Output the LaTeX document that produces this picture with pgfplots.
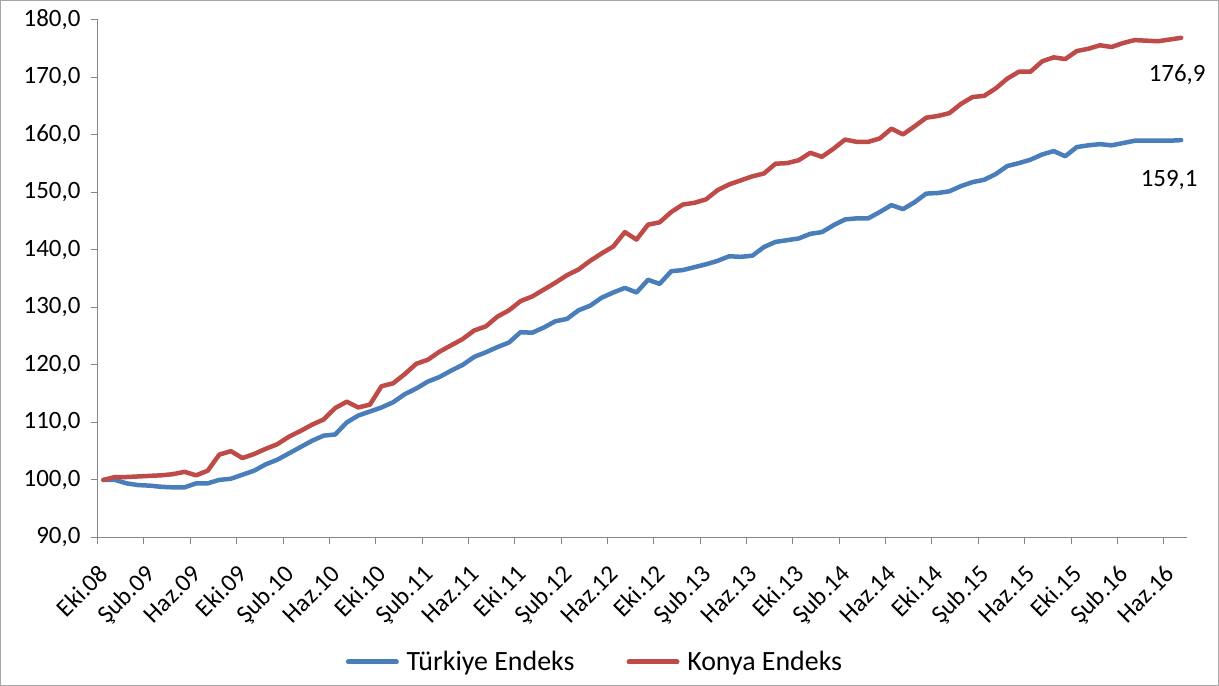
\documentclass[border=0pt]{standalone}
\usepackage{fontspec}
\setmainfont{Carlito}
\usepackage{pgfplots}
\pgfplotsset{compat=1.18}
\usepackage{pgfplotstable}

\definecolor{trblue}{HTML}{4A7EBB}
\definecolor{kored}{HTML}{BE4B48}
\definecolor{axgray}{HTML}{868686}
\definecolor{framegray}{HTML}{A6A6A6}

% ay sirasi (0 = Eki.08 ... 93 = Tem.16), Turkiye ve Konya endeksi
\pgfplotstableread{
i  tr    ko
0  100.0 100.0
1  100.0 100.5
2  99.4  100.5
3  99.1  100.6
4  99.0  100.7
5  98.8  100.8
6  98.7  101.0
7  98.7  101.4
8  99.4  100.8
9  99.4  101.6
10 100.0 104.4
11 100.2 105.0
12 100.9 103.8
13 101.6 104.5
14 102.7 105.4
15 103.5 106.2
16 104.6 107.5
17 105.7 108.5
18 106.8 109.6
19 107.7 110.5
20 107.9 112.5
21 110.0 113.6
22 111.2 112.6
23 111.9 113.1
24 112.6 116.3
25 113.5 116.8
26 114.9 118.4
27 115.9 120.2
28 117.1 120.9
29 117.9 122.3
30 119.0 123.4
31 120.0 124.5
32 121.4 126.0
33 122.2 126.7
34 123.1 128.4
35 123.9 129.5
36 125.7 131.1
37 125.6 131.9
38 126.5 133.1
39 127.6 134.3
40 128.0 135.6
41 129.5 136.6
42 130.3 138.1
43 131.7 139.4
44 132.6 140.6
45 133.4 143.1
46 132.6 141.8
47 134.8 144.4
48 134.1 144.8
49 136.3 146.6
50 136.5 147.9
51 137.0 148.2
52 137.5 148.8
53 138.1 150.4
54 138.9 151.4
55 138.8 152.1
56 139.0 152.8
57 140.5 153.3
58 141.4 155.0
59 141.7 155.1
60 142.0 155.6
61 142.8 156.9
62 143.1 156.2
63 144.3 157.6
64 145.3 159.2
65 145.5 158.8
66 145.5 158.8
67 146.6 159.4
68 147.8 161.1
69 147.1 160.1
70 148.3 161.5
71 149.8 163.0
72 149.9 163.3
73 150.2 163.8
74 151.1 165.4
75 151.8 166.6
76 152.2 166.8
77 153.2 168.1
78 154.6 169.8
79 155.1 171.0
80 155.7 171.0
81 156.6 172.8
82 157.2 173.5
83 156.3 173.2
84 157.9 174.6
85 158.2 175.0
86 158.4 175.6
87 158.2 175.3
88 158.6 176.0
89 159.0 176.5
90 159.0 176.4
91 159.0 176.3
92 159.0 176.6
93 159.1 176.9
}\endeks

\begin{document}
\begin{tikzpicture}[x=1bp,y=1bp]
\useasboundingbox (0,0) rectangle (1219,686);
\draw[framegray, line width=1.2bp] (0.6,0.6) rectangle (1218.4,685.4);
\begin{axis}[
    at={(97.6bp,148.6bp)}, anchor=south west,
    scale only axis, width=1089.4bp, height=517.4bp,
    xmin=-0.5, xmax=93.5,
    ymin=90, ymax=180,
    axis x line*=bottom, axis y line*=left,
    axis line style={draw=axgray, line width=1bp},
    tick align=outside,
    major tick length=7bp, minor tick length=7bp,
    tick style={draw=axgray, line width=1bp},
    major x tick style={draw=none},
    xtick={0,4,...,92},
    minor xtick={-0.5,3.5,...,91.5},
    xticklabels={Eki.08,Şub.09,Haz.09,Eki.09,Şub.10,Haz.10,Eki.10,Şub.11,Haz.11,Eki.11,Şub.12,Haz.12,Eki.12,Şub.13,Haz.13,Eki.13,Şub.14,Haz.14,Eki.14,Şub.15,Haz.15,Eki.15,Şub.16,Haz.16},
    ytick={90,100,...,180},
    /pgf/number format/assume math mode=true,
    yticklabel style={/pgf/number format/fixed, /pgf/number format/fixed zerofill,
        /pgf/number format/precision=1, /pgf/number format/use comma},
    tick label style={font=\fontsize{25}{30}\selectfont, text=black},
    x tick label style={xshift=6.5bp, yshift=-31bp, rotate=45, anchor=base east, inner sep=0pt},
    y tick label style={inner sep=0pt, xshift=-10bp},
    clip=false,
    legend columns=2,
    legend style={at={(0.4566,-0.2408)}, anchor=center, draw=none, fill=none,
        font=\fontsize{28}{33}\selectfont,
        /tikz/every even column/.append style={column sep=50bp}},
    legend image code/.code={\draw[#1, line width=5bp, line cap=round] (0bp,0bp) -- (48bp,0bp); \path (54bp,0bp);},
]
\addplot[trblue, line width=4.5bp, line join=round, line cap=round] table[x=i, y=tr] {\endeks};
\addlegendentry{Türkiye Endeks}
\addplot[kored, line width=4.5bp, line join=round, line cap=round] table[x=i, y=ko] {\endeks};
\addlegendentry{Konya Endeks}
\node[font=\fontsize{25}{30}\selectfont] at (axis cs:93,176.9) [xshift=-4bp, yshift=-37bp] {176,9};
\node[font=\fontsize{25}{30}\selectfont] at (axis cs:93,159.1) [xshift=-12bp, yshift=-40bp] {159,1};
\end{axis}
\end{tikzpicture}
\end{document}
